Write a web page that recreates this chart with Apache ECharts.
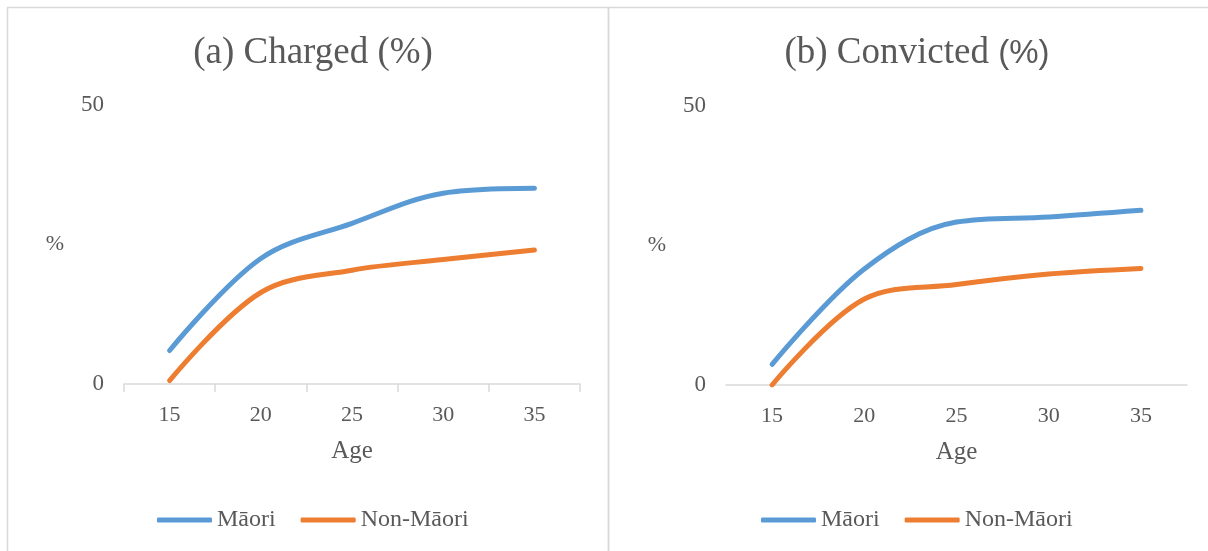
<!DOCTYPE html>
<html><head><meta charset="utf-8">
<script src="https://cdn.jsdelivr.net/npm/echarts@6/dist/echarts.min.js"></script>
<style>html,body{margin:0;padding:0;background:#fff}#c{width:1208px;height:551px}</style>
</head><body><div id="c"></div>
<script>
const ages = ['15','20','25','30','35'];
const chargedMaori = [6.0, 22.5, 28.8, 34.2, 35.1];
const chargedNonMaori = [0.6, 16.4, 20.4, 22.3, 24.0];
const convictedMaori = [3.7, 20.8, 29.2, 30.1, 31.3];
const convictedNonMaori = [0.0, 15.4, 18.0, 19.9, 20.9];
const yTicks = [0, 50];
const seriesNames = ['Māori', 'Non-Māori'];
const colors = ['#5b9bd5', '#ed7d31'];

const serif = 'Liberation Serif';
const grey = '#595959';
const chart = echarts.init(document.getElementById('c'), null, {renderer: 'canvas'});

function xAxis(idx, ticks) {
  return {
    type: 'category', gridIndex: idx, data: ages, boundaryGap: true,
    axisLine: {lineStyle: {color: '#d9d9d9', width: 1.5}},
    axisTick: {show: ticks, length: 8, lineStyle: {color: '#d9d9d9', width: 1.5}},
    axisLabel: {color: grey, fontFamily: serif, fontSize: 22, margin: 20},
    name: 'Age', nameLocation: 'middle', nameGap: 55,
    nameTextStyle: {color: grey, fontFamily: serif, fontSize: 25}
  };
}
function yAxis(idx) {
  return {
    type: 'value', gridIndex: idx, min: yTicks[0], max: yTicks[1], interval: yTicks[1] - yTicks[0],
    axisLine: {show: false}, axisTick: {show: false}, splitLine: {show: false},
    axisLabel: {color: grey, fontFamily: serif, fontSize: 23, margin: 20},
    name: '%', nameLocation: 'middle', nameRotate: 0, nameGap: 60,
    nameTextStyle: {color: grey, fontFamily: serif, fontSize: 22, padding: [6, 0, 0, 0]}
  };
}
function line(name, data, color, idx) {
  return {
    type: 'line', name: name, data: data, xAxisIndex: idx, yAxisIndex: idx,
    smooth: 0.35, symbol: 'none',
    lineStyle: {color: color, width: 5, cap: 'round', join: 'round'},
    itemStyle: {color: color}
  };
}
function legend(left) {
  return {
    data: seriesNames, left: left, bottom: 14, icon: 'roundRect',
    itemWidth: 55, itemHeight: 5, itemGap: 25,
    textStyle: {color: grey, fontFamily: serif, fontSize: 24}
  };
}

chart.setOption({
  animation: false,
  color: colors,
  title: [
    {text: '(a) Charged (%)', left: 308, top: 30, textAlign: 'center',
     textStyle: {color: grey, fontFamily: serif, fontSize: 37, fontWeight: 'normal'}},
    {text: '(b) Convicted {s|(%)}', left: 912, top: 30, textAlign: 'center',
     textStyle: {color: grey, fontFamily: serif, fontSize: 37, fontWeight: 'normal',
       rich: {s: {fontFamily: 'Liberation Sans', fontSize: 33, color: grey}}}}
  ],
  graphic: [
    {type: 'rect', shape: {x: 7.5, y: 7.5, width: 601, height: 600}, style: {fill: 'none', stroke: '#d9d9d9', lineWidth: 1.5}, silent: true},
    {type: 'rect', shape: {x: 608.5, y: 7.5, width: 640, height: 600}, style: {fill: 'none', stroke: '#d9d9d9', lineWidth: 1.5}, silent: true}
  ],
  legend: [legend(152), legend(756)],
  grid: [
    {left: 124, top: 105, width: 456, height: 279},
    {left: 726, top: 106, width: 461, height: 279}
  ],
  xAxis: [xAxis(0, true), xAxis(1, false)],
  yAxis: [yAxis(0), yAxis(1)],
  series: [
    line(seriesNames[0], chargedMaori, colors[0], 0),
    line(seriesNames[1], chargedNonMaori, colors[1], 0),
    line(seriesNames[0], convictedMaori, colors[0], 1),
    line(seriesNames[1], convictedNonMaori, colors[1], 1)
  ]
});
</script></body></html>
